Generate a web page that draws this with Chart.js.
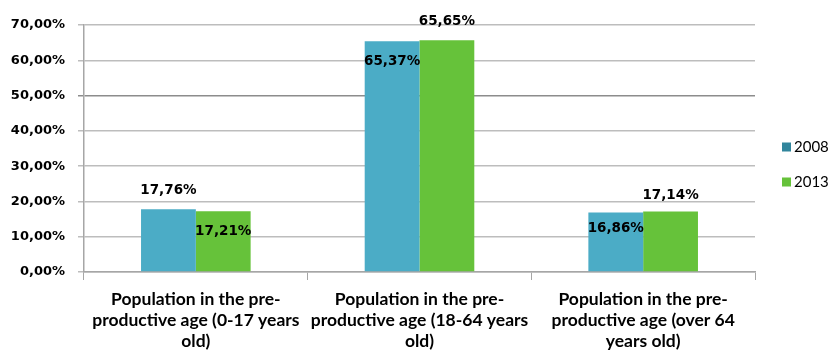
<!DOCTYPE html>
<html>
<head>
<meta charset="utf-8">
<script src="https://cdn.jsdelivr.net/npm/chart.js@4/dist/chart.umd.min.js"></script>
<style>
  html, body { margin: 0; padding: 0; background: #fff; }
</style>
</head>
<body>
<canvas id="popChart" width="838" height="350"></canvas>
<script>
// age groups and population shares (%)
const categories = [
  ["Population in the pre-", "productive age (0-17 years", "old)"],
  ["Population in the pre-", "productive age (18-64 years", "old)"],
  ["Population in the pre-", "productive age (over 64", "years old)"]
];
const seriesNames = ["2008", "2013"];
const values2008 = [17.76, 65.37, 16.86];
const values2013 = [17.21, 65.65, 17.14];
const yTicks = [0, 10, 20, 30, 40, 50, 60, 70];

const barColors = ["#4bacc6", "#66c23a"];
const legendColors = ["#31859c", "#66c23a"];

// where each value label sits relative to the bar top (px, negative = above)
const labelShift = [
  [-19, 20, 15.5],
  [20, -19, -16.5]
];

const fmt = v => v.toFixed(2).replace(".", ",") + "%";

const valueLabels = {
  id: "valueLabels",
  afterDatasetsDraw(chart) {
    const ctx = chart.ctx;
    ctx.save();
    ctx.font = "bold 13.5px 'DejaVu Sans'";
    ctx.fillStyle = "#000";
    ctx.textAlign = "center";
    ctx.textBaseline = "middle";
    chart.data.datasets.forEach((ds, di) => {
      chart.getDatasetMeta(di).data.forEach((bar, i) => {
        ctx.fillText(fmt(ds.data[i]), bar.x, bar.y + labelShift[di][i]);
      });
    });
    ctx.restore();
  }
};

const sideLegend = {
  id: "sideLegend",
  afterDraw(chart) {
    const ctx = chart.ctx;
    ctx.save();
    ctx.font = "15px Lato";
    ctx.textBaseline = "middle";
    chart.data.datasets.forEach((ds, i) => {
      const y = 147 + i * 35;
      ctx.fillStyle = legendColors[i];
      ctx.fillRect(782, y - 4.5, 9, 9);
      ctx.fillStyle = "#000";
      ctx.fillText(ds.label, 794, y);
    });
    ctx.restore();
  }
};

new Chart(document.getElementById("popChart"), {
  type: "bar",
  data: {
    labels: categories,
    datasets: [
      { label: seriesNames[0], data: values2008, backgroundColor: barColors[0] },
      { label: seriesNames[1], data: values2013, backgroundColor: barColors[1] }
    ]
  },
  options: {
    responsive: false,
    animation: false,
    layout: { padding: { left: 0, right: 83, top: 25, bottom: 0 } },
    datasets: {
      bar: { categoryPercentage: 0.49, barPercentage: 1.0 }
    },
    plugins: {
      legend: { display: false },
      tooltip: { enabled: false }
    },
    scales: {
      x: {
        grid: {
          drawOnChartArea: false,
          tickLength: 8,
          color: "#a6a6a6"
        },
        border: { color: "#a6a6a6", width: 1.5 },
        ticks: {
          color: "#000",
          font: { family: "Lato", weight: "bold", size: 17.5, lineHeight: 1.2 },
          padding: 9,
          maxRotation: 0
        },
        afterFit(scale) { scale.height = 78; }
      },
      y: {
        min: 0,
        max: 70,
        afterBuildTicks(scale) { scale.ticks = yTicks.map(v => ({ value: v })); },
        grid: {
          color: ctx => (ctx.tick && ctx.tick.value === 50 ? "#8c8c8c" : "#bdbdbd"),
          lineWidth: 1.5,
          tickLength: 6
        },
        border: { color: "#a6a6a6", width: 1.5 },
        ticks: {
          color: "#000",
          font: { family: "DejaVu Sans", weight: "bold", size: 13 },
          padding: 13,
          callback: v => fmt(v)
        },
        afterFit(scale) { scale.width = 84; }
      }
    }
  },
  plugins: [valueLabels, sideLegend]
});
</script>
</body>
</html>
